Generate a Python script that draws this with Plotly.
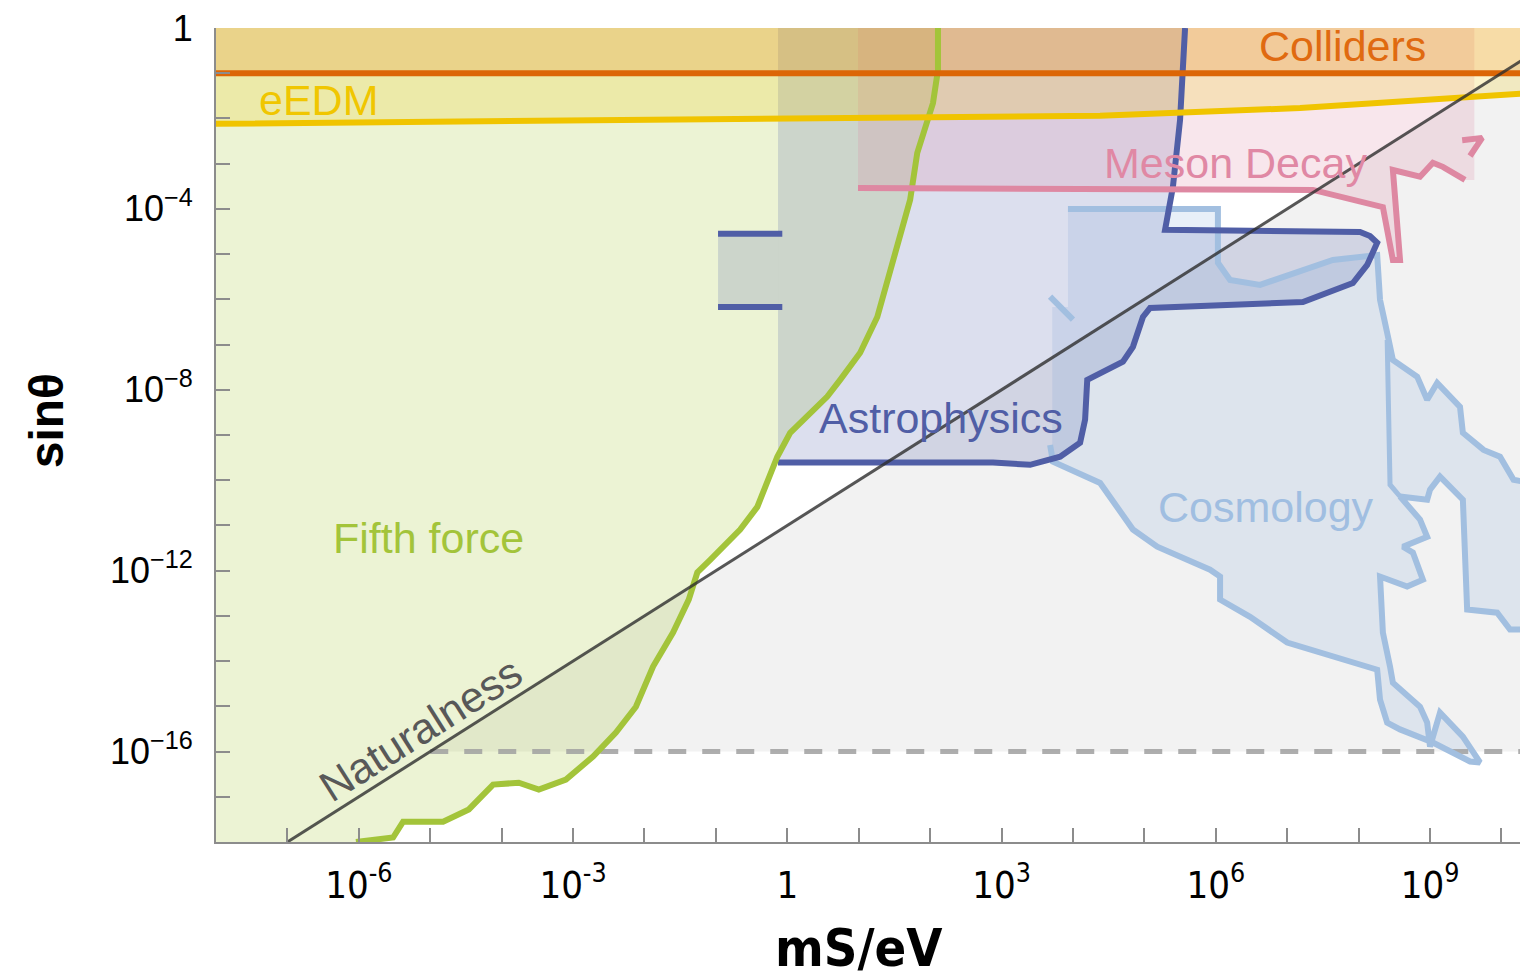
import plotly.graph_objects as go

# All values are log10: mass mS in eV, mixing sin(theta)
fifth_force = [(-6.04, -18.0), (-5.59, -17.94), (-5.52, -17.90), (-5.38, -17.55), (-4.82, -17.55),
               (-4.46, -17.28), (-4.12, -16.73), (-3.76, -16.69), (-3.48, -16.84), (-3.10, -16.62),
               (-2.72, -16.11), (-2.40, -15.58), (-2.12, -15.01), (-1.88, -14.12), (-1.60, -13.37),
               (-1.38, -12.64), (-1.26, -12.04), (-1.08, -11.76), (-0.66, -11.09), (-0.42, -10.59),
               (-0.28, -9.99), (-0.14, -9.48), (0.04, -8.95), (0.32, -8.51), (0.56, -8.15),
               (0.74, -7.78), (1.02, -7.18), (1.26, -6.39), (1.40, -5.57), (1.54, -4.75),
               (1.72, -3.80), (1.82, -2.76), (2.04, -1.66), (2.11, -0.93), (2.11, 0.0)]

astro_edge = [(5.57, 0.0), (5.50, -2.03), (5.40, -3.51), (5.29, -4.46), (8.02, -4.51), (8.16, -4.60),
              (8.26, -4.75), (8.12, -5.24), (7.92, -5.64), (7.22, -6.06), (5.08, -6.19), (4.98, -6.39),
              (4.84, -7.05), (4.70, -7.38), (4.20, -7.78), (4.17, -8.66), (4.10, -9.17), (3.82, -9.48),
              (3.40, -9.66), (2.88, -9.61), (-0.13, -9.61)]
astro_left = -0.13
astro_window_m = [-0.97, -0.07]
astro_window_s = [-6.17, -4.55]

meson_edge = [(0.99, -3.54), (7.36, -3.58), (8.34, -3.96), (8.48, -5.13), (8.58, -5.13), (8.48, -3.14),
              (8.86, -3.29), (9.04, -2.98), (9.18, -3.07), (9.49, -3.36)]
meson_right = 9.62
meson_flag = [(9.45, -2.48), (9.73, -2.43), (9.56, -2.83)]

cosmo_edge = [(3.93, -4.00), (6.03, -4.00), (6.03, -5.19), (6.20, -5.57), (6.62, -5.68), (7.64, -5.13),
              (8.26, -5.02), (8.30, -6.01), (8.40, -6.74), (8.48, -7.34), (8.82, -7.71), (8.96, -8.22),
              (9.10, -7.85), (9.42, -8.38), (9.46, -8.95), (9.75, -9.33), (9.98, -9.48), (10.17, -9.99),
              (10.40, -10.06), (10.40, -13.30), (10.12, -13.30), (9.94, -12.93), (9.52, -12.86),
              (9.46, -10.43), (9.14, -9.92), (9.00, -10.21), (8.96, -10.43), (8.58, -10.36),
              (8.86, -10.87), (8.96, -11.25), (8.62, -11.47), (8.76, -11.60), (8.90, -12.20),
              (8.68, -12.35), (8.30, -12.13), (8.34, -13.37), (8.44, -14.12), (8.48, -14.48),
              (8.86, -15.01), (8.96, -15.36), (9.00, -15.89), (9.14, -15.14), (9.46, -15.67),
              (9.70, -16.24), (9.56, -16.22), (9.04, -15.80), (8.58, -15.51), (8.40, -15.36),
              (8.30, -14.85), (8.26, -14.19), (7.00, -13.59), (6.48, -13.02), (6.06, -12.64),
              (6.06, -12.13), (5.92, -11.98), (5.18, -11.47), (4.84, -11.09), (4.56, -10.43),
              (4.38, -10.06), (3.72, -9.59), (3.68, -9.22)]
cosmo_left_fill = [(3.71, -9.22), (3.71, -6.17), (3.93, -6.17)]
cosmo_inner = [(8.40, -6.90), (8.44, -10.10), (8.58, -10.36)]
cosmo_dash = [(3.68, -5.94), (4.00, -6.45)]

eedm_edge = [(-8.2, -2.12), (-1.0, -2.03), (2.98, -1.99), (4.38, -1.94), (7.18, -1.77), (10.4, -1.44)]
collider_edge = [(-8.2, -1.0), (10.4, -1.0)]
naturalness = [(-7.0, -18.0), (10.4, -0.6)]
floor_line = [(-5.0, -16.0), (10.4, -16.0)]
natural_region = [(-5.0, -16.0), (10.4, -0.6), (10.4, -16.0)]

x_range = [-8.0, 10.26]
y_range = [-18.0, 0.0]
x_ticks = list(range(-8, 11))
y_ticks = list(range(-18, 1))
x_labels = {-6: "10<sup>-6</sup>", -3: "10<sup>-3</sup>", 0: "1", 3: "10<sup>3</sup>",
            6: "10<sup>6</sup>", 9: "10<sup>9</sup>"}
y_labels = {0: "1", -4: "10<sup>\u22124</sup>", -8: "10<sup>\u22128</sup>",
            -12: "10<sup>\u221212</sup>", -16: "10<sup>\u221216</sup>"}

region_labels = [
    ("Colliders", 7.78, -0.40, "rgb(224,106,16)"),
    ("eEDM", -6.56, -1.60, "rgb(240,198,0)"),
    ("Meson Decay", 6.27, -2.98, "rgb(224,136,164)"),
    ("Astrophysics", 2.15, -8.62, "rgb(80,94,166)"),
    ("Cosmology", 6.71, -10.60, "rgb(160,190,225)"),
    ("Fifth force", -5.03, -11.27, "rgb(163,196,58)"),
]

FONT = "Liberation Sans, Arial, sans-serif"
NARROW = "Liberation Sans Narrow, Arial Narrow, DejaVu Sans Condensed, Liberation Sans, sans-serif"
W = 6


def lin(pts):
    m, s = zip(*pts)
    return [10 ** v for v in m], [10 ** v for v in s]


fig = go.Figure()


def area(pts, color):
    x, y = lin(pts)
    fig.add_trace(go.Scatter(x=x, y=y, mode="lines", fill="toself", fillcolor=color,
                             line=dict(width=0), hoverinfo="skip"))


def stroke(pts, color, width, dash="solid"):
    x, y = lin(pts)
    fig.add_trace(go.Scatter(x=x, y=y, mode="lines", line=dict(color=color, width=width, dash=dash),
                             hoverinfo="skip"))


# filled regions
area(natural_region, "rgb(242,242,242)")
area([(-8.5, -18.5)] + fifth_force + [(2.11, 0.5), (-8.5, 0.5)], "rgba(160,195,40,0.2)")
area(astro_edge + [(astro_left, 0.0)], "rgba(79,94,168,0.2)")
area([(astro_window_m[0], astro_window_s[0]), (astro_left, astro_window_s[0]),
      (astro_left, astro_window_s[1]), (astro_window_m[0], astro_window_s[1])], "rgba(79,94,168,0.2)")
area(cosmo_edge + cosmo_left_fill, "rgba(100,150,210,0.15)")
area(meson_edge + [(meson_right, meson_edge[-1][1]), (meson_right, 0.3), (meson_edge[0][0], 0.3)],
     "rgba(222,130,160,0.2)")
area(eedm_edge + [(10.4, 0.3), (-8.2, 0.3)], "rgba(240,200,0,0.2)")
area(collider_edge + [(10.4, 0.3), (-8.2, 0.3)], "rgba(225,110,0,0.18)")

# boundaries
stroke(floor_line, "rgba(160,160,160,0.85)", 5, dash="18px,16px")
stroke(cosmo_edge, "rgb(162,191,224)", W)
stroke(cosmo_inner, "rgb(162,191,224)", W - 1)
stroke(cosmo_dash, "rgb(162,191,224)", W)
stroke(astro_edge, "rgb(80,94,166)", W)
for s in astro_window_s:
    stroke([(astro_window_m[0], s), (astro_window_m[1], s)], "rgb(80,94,166)", W)
stroke(fifth_force, "rgb(163,196,58)", W)
stroke(meson_edge, "rgb(222,136,162)", W)
stroke(meson_flag, "rgb(222,136,162)", W)
stroke(eedm_edge, "rgb(240,196,0)", W)
stroke(collider_edge, "rgb(220,102,6)", W)
stroke(naturalness, "rgba(45,45,45,0.8)", 3)

annotations = [dict(x=mx, y=sy, xref="x", yref="y", text=t, showarrow=False,
                    xanchor="center", yanchor="middle",
                    font=dict(family=FONT, size=43, color=c)) for t, mx, sy, c in region_labels]
annotations.append(dict(x=-5.13, y=-15.51, xref="x", yref="y", text="Naturalness", showarrow=False,
                        xanchor="center", yanchor="middle", textangle=-32.4,
                        font=dict(family=FONT, size=43, color="rgb(88,88,88)")))
annotations.append(dict(x=(858 - 216) / 1304, y=-0.130, xref="paper", yref="paper", text="<b>mS/eV</b>",
                        showarrow=False, xanchor="center", yanchor="middle",
                        font=dict(family=NARROW, size=52, color="black")))
annotations.append(dict(x=-0.1304, y=0.518, xref="paper", yref="paper", text="<b>sin\u03b8</b>",
                        textangle=-90, showarrow=False, xanchor="center", yanchor="middle",
                        font=dict(family=FONT, size=48, color="black")))

axis_common = dict(showgrid=False, zeroline=False, showline=True, linecolor="rgb(140,140,140)",
                   linewidth=2, ticks="inside", ticklen=14, tickwidth=1.5, tickcolor="rgb(140,140,140)")

fig.update_layout(
    width=1520, height=978,
    margin=dict(l=216, r=0, t=28, b=136),
    paper_bgcolor="white", plot_bgcolor="white",
    showlegend=False,
    annotations=annotations,
    xaxis=dict(type="log", range=x_range,
               tickvals=[10 ** n for n in x_ticks],
               ticktext=[x_labels.get(n, "") for n in x_ticks],
               tickfont=dict(family=NARROW, size=38, color="black"),
               ticklabelstandoff=8, **axis_common),
    yaxis=dict(type="log", range=y_range,
               tickvals=[10 ** n for n in y_ticks],
               ticktext=[y_labels.get(n, "") for n in y_ticks],
               tickfont=dict(family=FONT, size=36, color="black"),
               ticklabelstandoff=14, **axis_common),
)

fig.write_html("out.html")
